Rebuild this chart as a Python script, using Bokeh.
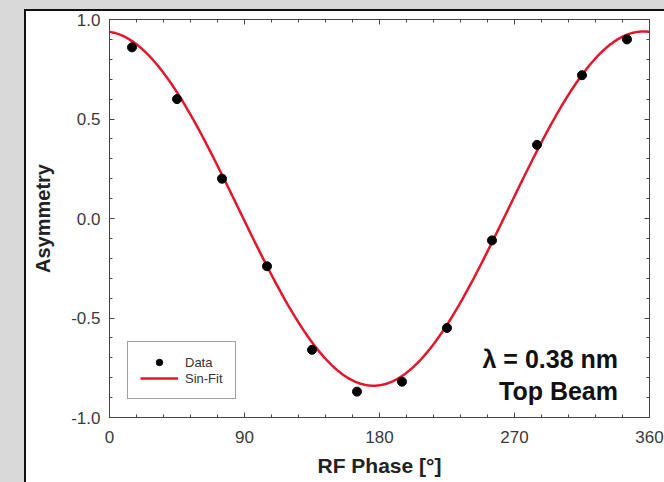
import numpy as np
from bokeh.plotting import figure
from bokeh.models import (Range1d, FixedTicker, LinearAxis, PrintfTickFormatter, Label,
                          Legend, LegendItem, GlobalInlineStyleSheet, CustomJSTickFormatter)
from bokeh.embed import file_html
from bokeh.resources import INLINE

# ---- data ----
phase_deg = [15, 45, 75, 105, 135, 165, 195, 225, 255, 285, 315, 345]
asymmetry = [0.86, 0.60, 0.20, -0.24, -0.66, -0.87, -0.82, -0.55, -0.11, 0.37, 0.72, 0.90]

# Sin-Fit parameters
fit_offset = 0.05
fit_amplitude = 0.89
fit_peak_deg = 356.0

x_ticks = [0, 90, 180, 270, 360]
y_ticks = [-1.0, -0.5, 0.0, 0.5, 1.0]
x_minor = list(range(0, 361, 18))
y_minor = [round(-1.0 + 0.1 * i, 1) for i in range(21)]

fit_x = np.linspace(0, 360, 361)
fit_y = fit_offset + fit_amplitude * np.cos(np.radians(fit_x - fit_peak_deg))

FONT = "Liberation Sans"
AXC = "#444444"

p = figure(width=664, height=482, output_backend="svg", toolbar_location=None,
           x_range=Range1d(0, 360), y_range=Range1d(-1, 1),
           min_border_left=109, min_border_right=15, min_border_top=19, min_border_bottom=65,
           x_axis_location=None, y_axis_location=None)
p.border_fill_color = None
p.background_fill_color = "white"
p.outline_line_color = AXC
p.outline_line_width = 1
p.xgrid.visible = False
p.ygrid.visible = False

css = """
html {
  background-color: #d9d9d9;
  background-image:
    linear-gradient(to right, #d9d9d9 24px, transparent 24px),
    linear-gradient(to bottom, #d9d9d9 9px, #111111 9px, #111111 11px, transparent 11px),
    linear-gradient(to right, transparent 24px, #111111 24px, #111111 26px, #ffffff 26px);
  background-repeat: no-repeat;
  background-size: 100% 100%;
  min-height: 100%;
}
body { background: transparent; }
"""
p.stylesheets = [GlobalInlineStyleSheet(css=css)]


def make_axis(ticker, show_labels, **kw):
    ax = LinearAxis(ticker=ticker, **kw)
    ax.axis_line_color = AXC
    ax.major_tick_line_color = AXC
    ax.minor_tick_line_color = AXC
    ax.major_tick_in = 5
    ax.major_tick_out = 0
    ax.minor_tick_in = 3
    ax.minor_tick_out = 0
    ax.major_label_text_font = FONT
    ax.major_label_text_color = "#3a3a3a"
    if show_labels:
        ax.major_label_text_font_size = "17px"
    else:
        ax.formatter = CustomJSTickFormatter(code="return '';")
        ax.major_label_text_font_size = "1px"
        ax.major_label_standoff = 0
    ax.axis_label_text_font = FONT
    ax.axis_label_text_font_style = "bold"
    ax.axis_label_text_color = "#222222"
    return ax


xt = FixedTicker(ticks=x_ticks, minor_ticks=x_minor)
yt = FixedTicker(ticks=y_ticks, minor_ticks=y_minor)

xb = make_axis(xt, True, axis_label="RF Phase [°]")
xb.major_label_standoff = 13
xb.axis_label_standoff = 8
xb.axis_label_text_font_size = "21px"
p.add_layout(xb, "below")

yl = make_axis(yt, True, axis_label="Asymmetry", formatter=PrintfTickFormatter(format="%.1f"))
yl.major_label_standoff = 9
yl.axis_label_standoff = 14
yl.axis_label_text_font_size = "20px"
p.add_layout(yl, "left")

xa = make_axis(xt, False)
p.add_layout(xa, "above")
yr = make_axis(yt, False)
p.add_layout(yr, "right")

fit_r = p.line(fit_x, fit_y, line_color="#e3172c", line_width=2.5)
dat_r = p.scatter(phase_deg, asymmetry, size=9, fill_color="black", line_color="black")

legend = Legend(items=[LegendItem(label="Data", renderers=[dat_r]),
                       LegendItem(label="Sin-Fit", renderers=[fit_r])],
                location=(18, 18))
legend.padding = 12
legend.spacing = 0
legend.glyph_height = 16
legend.glyph_width = 38
legend.label_height = 16
legend.label_standoff = 7
legend.label_text_font = FONT
legend.label_text_font_size = "13px"
legend.label_text_color = "#333333"
legend.border_line_color = AXC
legend.border_line_width = 1
legend.background_fill_color = "white"
legend.background_fill_alpha = 1.0
legend.margin = 0
p.add_layout(legend, "center")

for txt, yv in [("λ = 0.38 nm", -0.708), ("Top Beam", -0.866)]:
    p.add_layout(Label(x=339, y=yv, text=txt, text_align="right", text_baseline="alphabetic",
                       text_font=FONT, text_font_size="25px", text_font_style="bold",
                       text_color="#111111"))

open("out.html", "w").write(file_html(p, INLINE))
